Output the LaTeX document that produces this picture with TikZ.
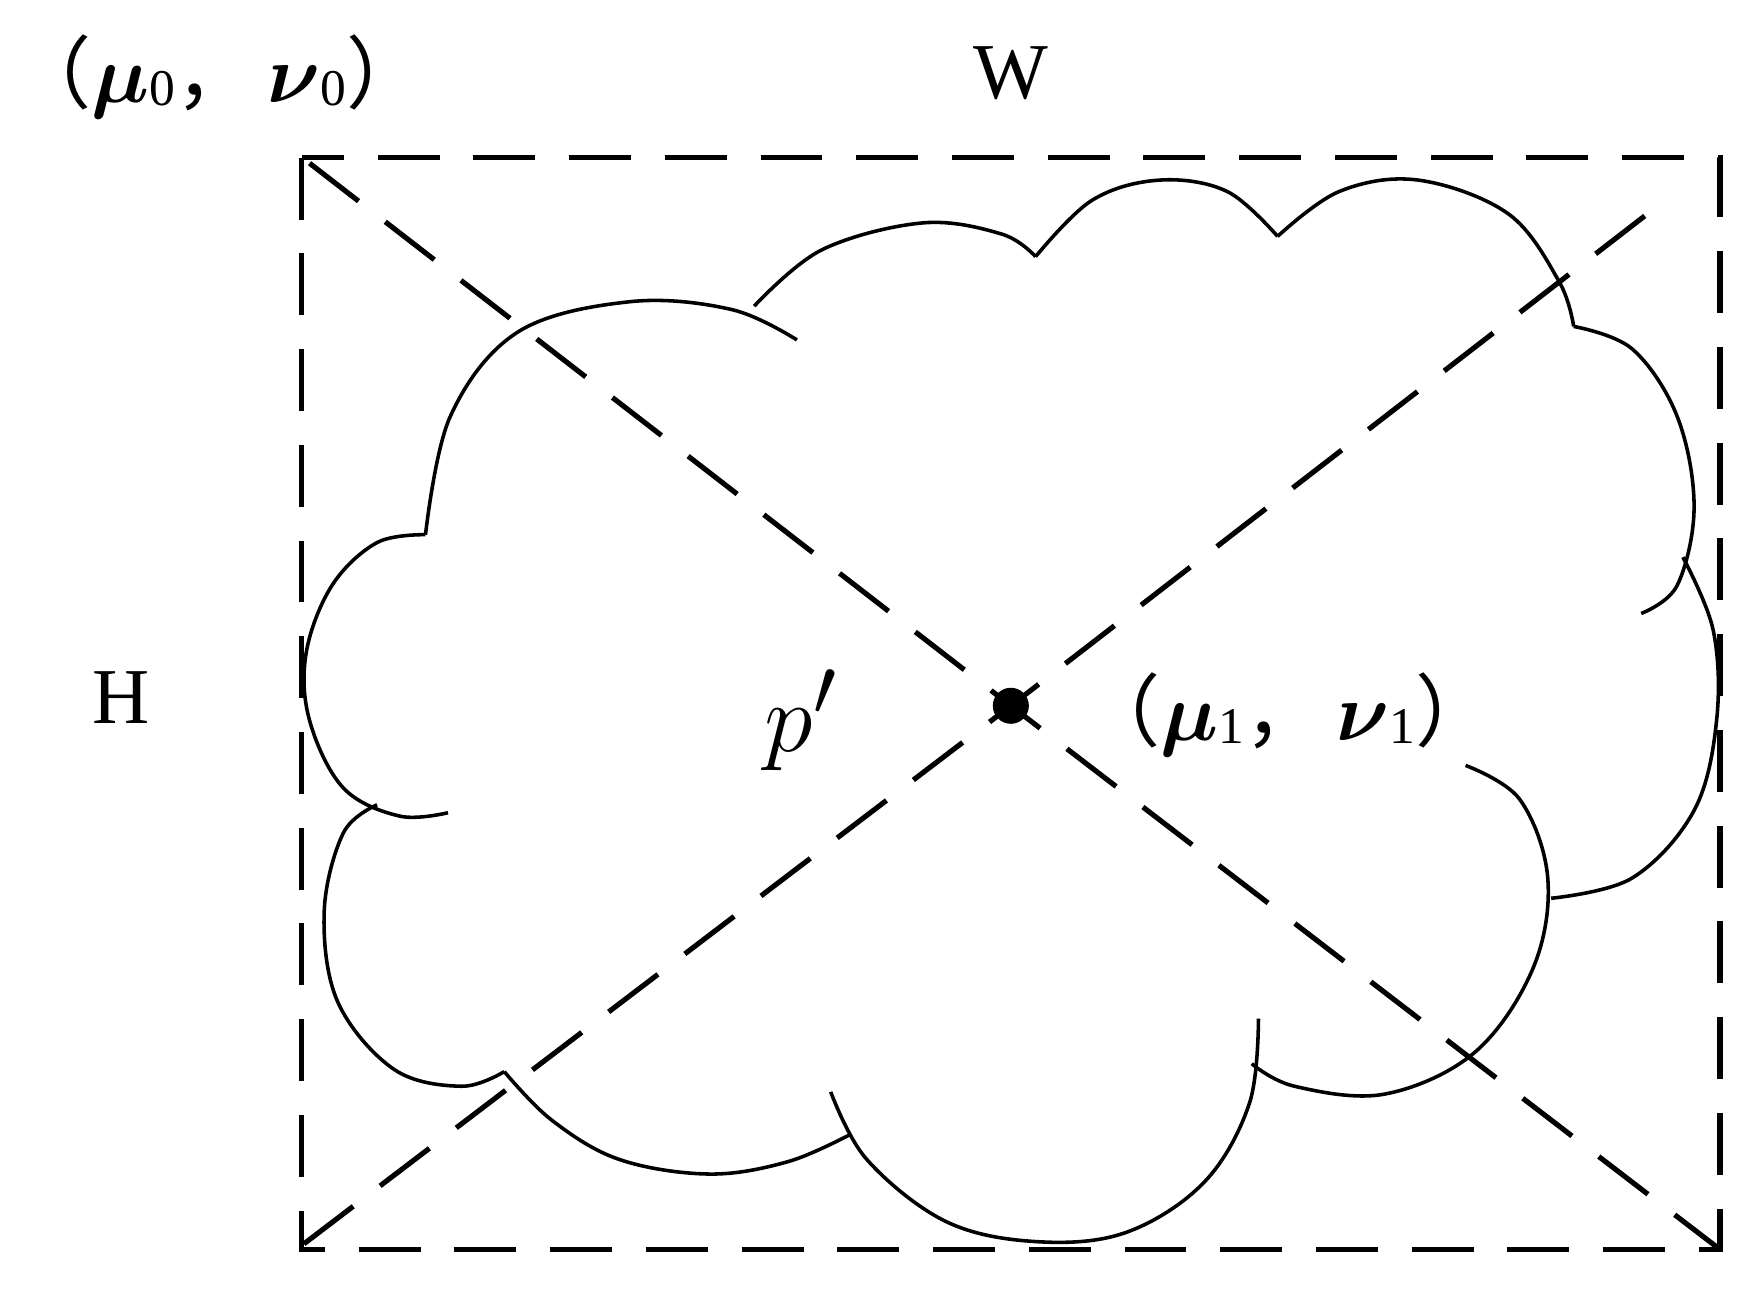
\documentclass[tikz,border=0pt]{standalone}
\usepackage{fontspec}
\usepackage{amsmath,bm}
\newfontfamily\cjk{Noto Sans CJK SC}
\setmainfont{Liberation Serif}
\begin{document}
\begin{tikzpicture}[x=0.01cm,y=-0.01cm,
  dsh/.style={line width=1.3pt,dash pattern=on 0.55cm off 0.3cm},
  cl/.style={line width=0.9pt},
  lbl/.style={inner sep=0pt,font=\fontsize{20}{24}\selectfont}]
\useasboundingbox (0,0) rectangle (1560,1158);
\draw[dsh] (268,140) rectangle (1528,1110);
\coordinate (tl) at (275,145); \coordinate (br) at (1528,1110);
\coordinate (bl) at (270,1105); \coordinate (tr) at (1470,185);
\node[circle,fill,inner sep=0pt,minimum size=0.32cm] (c) at (898,627) {};
\draw[dsh] (tl) -- (c.center) -- (br);
\draw[dsh] (bl) -- (c.center) -- (tr);
% cloud
\draw[cl] plot[smooth,tension=0.6] coordinates {(378,475)(400,370)(460,295)(560,268)(650,275)(708,302)};
\draw[cl] plot[smooth,tension=0.6] coordinates {(670,272)(730,222)(820,198)(890,208)(920,228)};
\draw[cl] plot[smooth,tension=0.6] coordinates {(920,228)(970,178)(1030,160)(1090,170)(1135,210)};
\draw[cl] plot[smooth,tension=0.6] coordinates {(1135,210)(1190,170)(1260,160)(1340,190)(1385,250)(1398,290)};
\draw[cl] plot[smooth,tension=0.6] coordinates {(1398,290)(1450,310)(1490,370)(1505,450)(1490,520)(1458,545)};
\draw[cl] plot[smooth,tension=0.6] coordinates {(1495,495)(1522,560)(1525,640)(1505,720)(1450,780)(1378,798)};
\draw[cl] plot[smooth,tension=0.6] coordinates {(1302,680)(1350,710)(1375,780)(1362,860)(1310,935)(1230,972)(1150,965)(1112,945)};
\draw[cl] plot[smooth,tension=0.6] coordinates {(1118,905)(1110,980)(1070,1050)(1000,1095)(920,1103)(840,1085)(770,1030)(738,970)};
\draw[cl] plot[smooth,tension=0.6] coordinates {(755,1008)(700,1032)(630,1043)(550,1030)(490,995)(448,952)};
\draw[cl] plot[smooth,tension=0.6] coordinates {(448,952)(410,965)(350,950)(300,890)(288,810)(305,740)(335,715)};
\draw[cl] plot[smooth,tension=0.6] coordinates {(398,722)(355,725)(305,700)(275,640)(272,580)(295,520)(335,482)(378,475)};
% labels
\node[lbl] (w) at (898,65) {W};
\node[lbl] (h) at (108,620) {H};
\node[inner sep=0pt,font=\fontsize{30}{34}\selectfont] (p) at (712,640) {$p'$};
\node[lbl,anchor=west] (uv0) at (10,68) {{\cjk （}$\bm{\mu}$\fontsize{13}{15}\selectfont\raisebox{-0.05em}{0}\fontsize{20}{24}\selectfont{\cjk ，}\,$\bm{\nu}$\fontsize{13}{15}\selectfont\raisebox{-0.05em}{0}\fontsize{20}{24}\selectfont{\cjk ）}};
\node[lbl,anchor=west] (uv1) at (960,635) {{\cjk （}$\bm{\mu}$\fontsize{13}{15}\selectfont\raisebox{-0.05em}{1}\fontsize{20}{24}\selectfont{\cjk ，}\,$\bm{\nu}$\fontsize{13}{15}\selectfont\raisebox{-0.05em}{1}\fontsize{20}{24}\selectfont{\cjk ）}};
\end{tikzpicture}
\end{document}
